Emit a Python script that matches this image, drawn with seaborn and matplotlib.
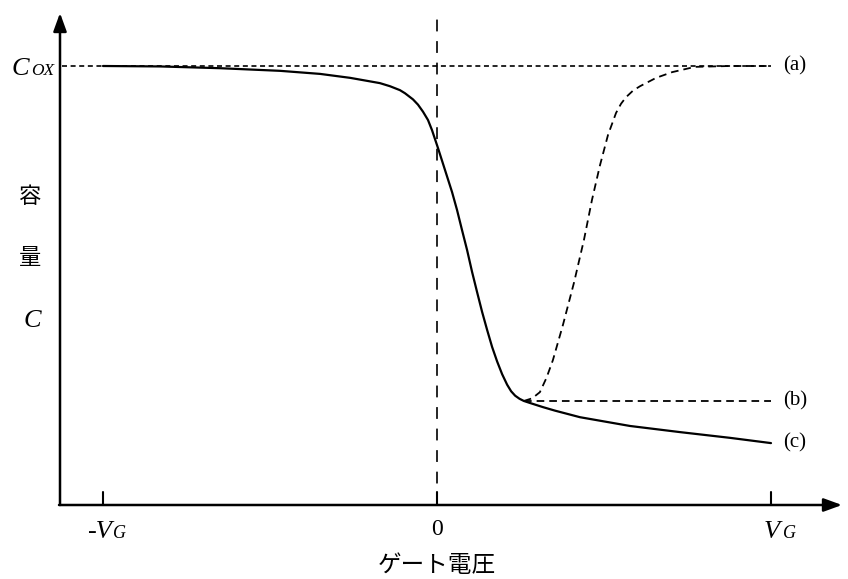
import matplotlib
matplotlib.use("Agg")
import matplotlib.pyplot as plt
import numpy as np
import pandas as pd
import seaborn as sns

# Normalised gate voltage (-VG .. VG -> -1 .. 1) and capacitance (C / Cox)
COX = 1.0

# (c) high-frequency curve with deep depletion tail
c_v = [-1.0, -0.829, -0.650, -0.470, -0.350, -0.260, -0.171, -0.141, -0.111,
       -0.096, -0.072, -0.057, -0.042, -0.027, -0.015, 0.003, 0.024, 0.045,
       0.060, 0.075, 0.090, 0.105, 0.120, 0.135, 0.150, 0.165, 0.180, 0.195,
       0.210, 0.222, 0.234, 0.247, 0.260, 0.280, 0.317, 0.353, 0.428, 0.578,
       0.728, 0.877, 1.0]
c_c = [1.0, 0.999, 0.995, 0.989, 0.982, 0.973, 0.961, 0.954, 0.945,
       0.938, 0.924, 0.912, 0.896, 0.877, 0.854, 0.813, 0.763, 0.713,
       0.672, 0.626, 0.581, 0.531, 0.485, 0.440, 0.399, 0.360, 0.327, 0.298,
       0.274, 0.259, 0.249, 0.242, 0.237, 0.232, 0.223, 0.215, 0.200, 0.180,
       0.166, 0.153, 0.141]

# (a) low-frequency curve returning to Cox
a_v = [0.260, 0.285, 0.308, 0.328, 0.347, 0.377, 0.410, 0.440, 0.464,
       0.488, 0.512, 0.536, 0.551, 0.566, 0.587, 0.608, 0.656, 0.704,
       0.772, 0.877, 1.0]
a_c = [0.237, 0.243, 0.257, 0.290, 0.330, 0.410, 0.506, 0.604, 0.695,
       0.774, 0.843, 0.893, 0.914, 0.929, 0.944, 0.954, 0.973, 0.986,
       0.998, 1.0, 1.0]

# (b) high-frequency curve saturating at the minimum capacitance
b_v = [0.260, 1.0]
b_c = [0.237, 0.237]

tick_pos = [-1.0, 0.0, 1.0]

sns.set_theme(style="white")
plt.rcParams["font.family"] = ["Liberation Serif", "Noto Sans CJK JP"]
plt.rcParams["lines.scale_dashes"] = False

fig = plt.figure(figsize=(8.48, 5.79), dpi=100)
ax = fig.add_axes([0, 0, 1, 1])

# pixel -> data helpers for the canvas layout
X0, XS = 437.0, 334.0
Y0, YS = 505.0, 439.0
def dx(p):
    return (p - X0) / XS
def dy(p):
    return (Y0 - p) / YS

# Cox reference level and the V = 0 line
ax.plot([dx(62), 1.0], [COX, COX], color="black", lw=1.2,
        linestyle=(0, (3.6, 2.6)), zorder=1)
ax.plot([0, 0], [0, dy(15)], color="black", lw=1.2,
        linestyle=(0, (8.5, 7.0)), zorder=1)

df_a = pd.DataFrame({"V": a_v, "C": a_c})
df_b = pd.DataFrame({"V": b_v, "C": b_c})
df_c = pd.DataFrame({"V": c_v, "C": c_c})

sns.lineplot(data=df_a, x="V", y="C", ax=ax, sort=False, estimator=None,
             color="black", lw=1.3, linestyle=(0, (5.5, 3.6)), zorder=2)
sns.lineplot(data=df_b, x="V", y="C", ax=ax, sort=False, estimator=None,
             color="black", lw=1.3, linestyle=(0, (5.5, 3.6)), zorder=2)
sns.lineplot(data=df_c, x="V", y="C", ax=ax, sort=False, estimator=None,
             color="black", lw=1.6, zorder=3)
for ln in ax.lines:
    ln.set_solid_joinstyle("round")
    ln.set_dash_joinstyle("round")
ax.set_xlim(dx(0), dx(848))
ax.set_ylim(dy(579), dy(0))
ax.axis("off")

# axes with arrow heads
ax_x = dx(60)
arrow = dict(arrowstyle="-|>,head_length=0.55,head_width=0.2",
             mutation_scale=20, lw=1.8, color="black",
             shrinkA=0, shrinkB=0)
ax.annotate("", xy=(ax_x, dy(13)), xytext=(ax_x, 0), arrowprops=arrow)
ax.annotate("", xy=(dx(842), 0), xytext=(ax_x - 0.003, 0), arrowprops=arrow)

# tick marks
for t in tick_pos:
    ax.plot([t, t], [0, dy(492)], color="black", lw=1.5, zorder=4)

it = dict(style="italic", color="black", va="baseline", ha="left")

# x tick labels
ax.text(dx(87), dy(538), "-V", fontsize=19, **it)
ax.text(dx(113), dy(538), "G", fontsize=13, **it)
ax.text(0, dy(535), "0", fontsize=17, color="black", ha="center", va="baseline")
ax.text(dx(764), dy(538), "V", fontsize=19, **it)
ax.text(dx(783), dy(538), "G", fontsize=13, **it)
ax.text(0, dy(566), "ゲート電圧", fontsize=17, color="black",
        ha="center", va="center", family=["Noto Sans CJK JP"])

# y axis labels
ax.text(dx(12), dy(75), "C", fontsize=19, **it)
ax.text(dx(31), dy(75), "OX", fontsize=12.5, **it)
ax.text(dx(30), dy(196), "容", fontsize=16, color="black", ha="center",
        va="center", family=["Noto Sans CJK JP"])
ax.text(dx(30), dy(257), "量", fontsize=16, color="black", ha="center",
        va="center", family=["Noto Sans CJK JP"])
ax.text(dx(32), dy(321), "C", fontsize=19, style="italic", color="black",
        ha="center", va="center")

# curve labels
for lab, yv in (("(a)", a_c[-1]), ("(b)", b_c[-1]), ("(c)", c_c[-1])):
    ax.text(dx(783), yv, lab, fontsize=15, color="black", ha="left",
            va="center")

fig.savefig("out.png", dpi=100)
